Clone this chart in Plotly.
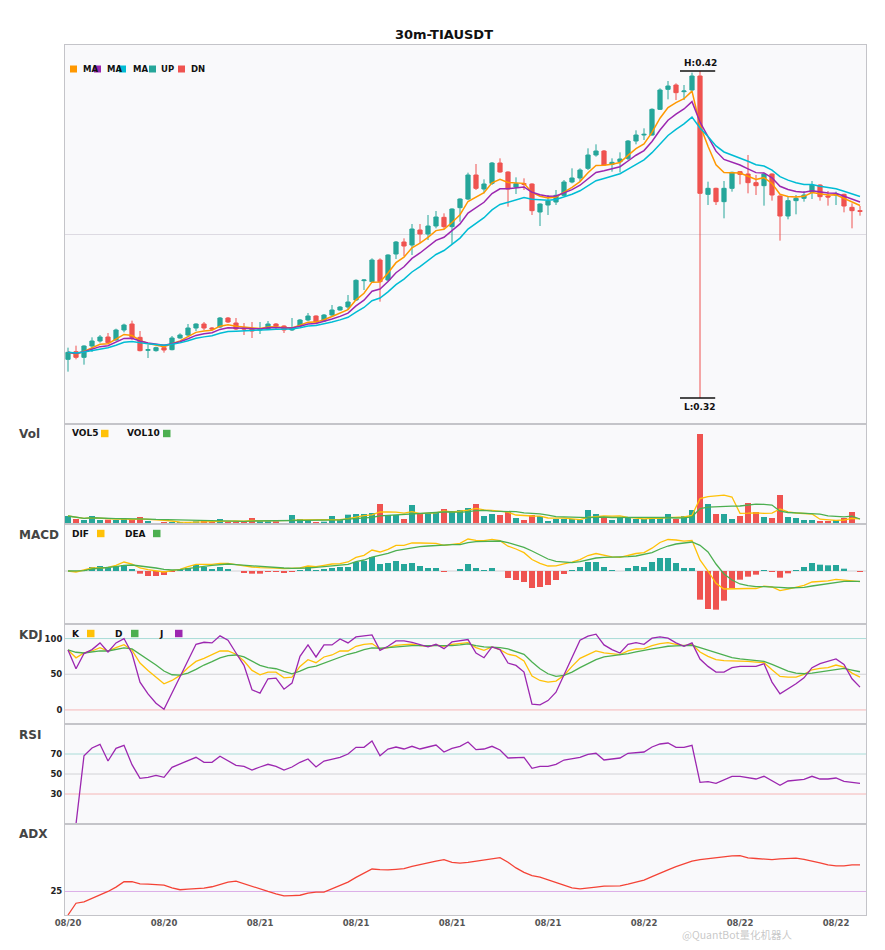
import plotly.graph_objects as go
from plotly.subplots import make_subplots

title_text = "30m-TIAUSDT"
tick_pos = [0, 12, 24, 36, 48, 60, 72, 84, 96]
tick_labels = ["08/20", "08/20", "08/21", "08/21", "08/21", "08/21", "08/22", "08/22", "08/22"]

opens = [0.3335, 0.3358, 0.3341, 0.3375, 0.3390, 0.3402, 0.3393, 0.3423, 0.3441, 0.3401,
         0.3362, 0.3361, 0.3370, 0.3364, 0.3399, 0.3408, 0.3429, 0.3441, 0.3429, 0.3432,
         0.3459, 0.3444, 0.3429, 0.3426, 0.3423, 0.3426, 0.3441, 0.3435, 0.3423, 0.3435,
         0.3453, 0.3465, 0.3450, 0.3468, 0.3483, 0.3492, 0.3513, 0.3571, 0.3568, 0.3633,
         0.3573, 0.3651, 0.3687, 0.3678, 0.3723, 0.3711, 0.3735, 0.3761, 0.3733, 0.3790,
         0.3816, 0.3888, 0.3846, 0.3863, 0.3924, 0.3897, 0.3852, 0.3862, 0.3861, 0.3777,
         0.3798, 0.3807, 0.3827, 0.3867, 0.3879, 0.3908, 0.3948, 0.3960, 0.3920, 0.3928,
         0.3938, 0.3990, 0.4008, 0.4008, 0.4085, 0.4145, 0.4158, 0.4138, 0.4143, 0.4185,
         0.3830, 0.3848, 0.3808, 0.3848, 0.3898, 0.3891, 0.3865, 0.3856, 0.3891, 0.3825,
         0.3765, 0.3811, 0.3818, 0.3836, 0.3858, 0.3825, 0.3828, 0.3830, 0.3791, 0.3781]
highs = [0.3370, 0.3376, 0.3377, 0.3401, 0.3408, 0.3414, 0.3427, 0.3442, 0.3451, 0.3420,
         0.3379, 0.3373, 0.3379, 0.3405, 0.3413, 0.3441, 0.3443, 0.3447, 0.3432, 0.3462,
         0.3462, 0.3459, 0.3444, 0.3447, 0.3447, 0.3450, 0.3444, 0.3437, 0.3459, 0.3456,
         0.3474, 0.3467, 0.3471, 0.3498, 0.3495, 0.3528, 0.3575, 0.3575, 0.3638, 0.3638,
         0.3650, 0.3690, 0.3698, 0.3741, 0.3741, 0.3768, 0.3780, 0.3773, 0.3788, 0.3818,
         0.3895, 0.3921, 0.3875, 0.3927, 0.3938, 0.3899, 0.3881, 0.3878, 0.3863, 0.3803,
         0.3828, 0.3843, 0.3873, 0.3908, 0.3908, 0.3968, 0.3980, 0.3963, 0.3938, 0.3956,
         0.3993, 0.4022, 0.4028, 0.4088, 0.4148, 0.4170, 0.4163, 0.4158, 0.4195, 0.4200,
         0.3868, 0.3850, 0.3870, 0.3898, 0.3900, 0.3948, 0.3888, 0.3893, 0.3893, 0.3827,
         0.3825, 0.3828, 0.3840, 0.3870, 0.3860, 0.3840, 0.3838, 0.3832, 0.3803, 0.3795]
lows = [0.3298, 0.3335, 0.3319, 0.3357, 0.3385, 0.3383, 0.3391, 0.3416, 0.3393, 0.3359,
        0.3339, 0.3358, 0.3355, 0.3362, 0.3397, 0.3405, 0.3420, 0.3423, 0.3423, 0.3429,
        0.3444, 0.3423, 0.3408, 0.3399, 0.3411, 0.3423, 0.3423, 0.3414, 0.3420, 0.3432,
        0.3450, 0.3444, 0.3447, 0.3465, 0.3481, 0.3483, 0.3510, 0.3543, 0.3565, 0.3508,
        0.3568, 0.3636, 0.3645, 0.3648, 0.3684, 0.3693, 0.3728, 0.3725, 0.3681, 0.3748,
        0.3813, 0.3843, 0.3833, 0.3858, 0.3895, 0.3793, 0.3831, 0.3843, 0.3768, 0.3735,
        0.3768, 0.3798, 0.3825, 0.3863, 0.3868, 0.3903, 0.3943, 0.3916, 0.3898, 0.3896,
        0.3933, 0.3980, 0.3993, 0.4006, 0.4083, 0.4115, 0.4113, 0.4113, 0.4138, 0.3219,
        0.3798, 0.3798, 0.3758, 0.3838, 0.3860, 0.3833, 0.3828, 0.3796, 0.3811, 0.3691,
        0.3755, 0.3770, 0.3808, 0.3816, 0.3811, 0.3796, 0.3798, 0.3776, 0.3728, 0.3766]
closes = [0.3356, 0.3341, 0.3375, 0.3390, 0.3402, 0.3385, 0.3423, 0.3438, 0.3401, 0.3361,
          0.3364, 0.3370, 0.3363, 0.3399, 0.3408, 0.3429, 0.3441, 0.3429, 0.3426, 0.3459,
          0.3447, 0.3426, 0.3426, 0.3420, 0.3426, 0.3441, 0.3435, 0.3423, 0.3429, 0.3453,
          0.3465, 0.3447, 0.3468, 0.3483, 0.3492, 0.3507, 0.3572, 0.3573, 0.3633, 0.3568,
          0.3648, 0.3687, 0.3675, 0.3726, 0.3711, 0.3735, 0.3762, 0.3733, 0.3786, 0.3816,
          0.3888, 0.3848, 0.3861, 0.3924, 0.3897, 0.3846, 0.3862, 0.3860, 0.3781, 0.3801,
          0.3810, 0.3827, 0.3867, 0.3879, 0.3903, 0.3948, 0.3960, 0.3918, 0.3926, 0.3936,
          0.3990, 0.4008, 0.4010, 0.4085, 0.4143, 0.4155, 0.4135, 0.4140, 0.4185, 0.3833,
          0.3848, 0.3808, 0.3848, 0.3896, 0.3890, 0.3865, 0.3856, 0.3891, 0.3828, 0.3765,
          0.3811, 0.3818, 0.3828, 0.3858, 0.3823, 0.3822, 0.3830, 0.3795, 0.3781, 0.3779]

ma_fast = [0.3356, 0.3351, 0.3359, 0.33693, 0.33802, 0.33818, 0.33955, 0.34097, 0.34068, 0.33915,
           0.33823, 0.33782, 0.33731, 0.33817, 0.33905, 0.34033, 0.34159, 0.34203, 0.34222, 0.34345,
           0.34387, 0.34345, 0.34317, 0.34278, 0.34272, 0.34318, 0.34329, 0.34296, 0.34294, 0.34373,
           0.34465, 0.34467, 0.34538, 0.34635, 0.3473, 0.34843, 0.35135, 0.35333, 0.35665, 0.3567,
           0.3594, 0.3625, 0.36417, 0.36698, 0.36835, 0.37007, 0.37211, 0.37251, 0.37454, 0.37689,
           0.38086, 0.38217, 0.38348, 0.38645, 0.38753, 0.38655, 0.38643, 0.38629, 0.38356, 0.38241,
           0.38194, 0.38219, 0.38369, 0.38509, 0.38683, 0.38949, 0.39166, 0.39171, 0.39201, 0.39254,
           0.39469, 0.39673, 0.39815, 0.4016, 0.40583, 0.40905, 0.41053, 0.41169, 0.41396, 0.40374,
           0.39743, 0.39189, 0.38953, 0.38955, 0.38937, 0.38841, 0.38747, 0.38801, 0.38627, 0.38301,
           0.38237, 0.38218, 0.38239, 0.38353, 0.38312, 0.38281, 0.38287, 0.38175, 0.38053, 0.37965]
ma_mid = [0.3356, 0.33527, 0.33576, 0.33648, 0.33731, 0.33757, 0.33862, 0.33977, 0.33984, 0.33901,
          0.33843, 0.33811, 0.33771, 0.3382, 0.33878, 0.33969, 0.34067, 0.34117, 0.34149, 0.34247,
          0.34297, 0.34289, 0.34283, 0.34265, 0.34264, 0.34296, 0.34308, 0.34291, 0.34291, 0.34344,
          0.34412, 0.34425, 0.34482, 0.34559, 0.34639, 0.34735, 0.34954, 0.35126, 0.35394, 0.35458,
          0.35685, 0.35948, 0.36126, 0.36378, 0.36541, 0.36721, 0.36921, 0.37012, 0.372, 0.37413,
          0.37739, 0.37904, 0.38061, 0.38323, 0.38467, 0.38465, 0.38499, 0.38521, 0.38363, 0.38285,
          0.38244, 0.3825, 0.38343, 0.38442, 0.38573, 0.38775, 0.38958, 0.39007, 0.39063, 0.39129,
          0.393, 0.39473, 0.39612, 0.39887, 0.4023, 0.40523, 0.40707, 0.40861, 0.41081, 0.4047,
          0.40028, 0.39595, 0.39347, 0.39261, 0.39181, 0.39063, 0.38951, 0.38942, 0.38795, 0.38541,
          0.38445, 0.38386, 0.38362, 0.3841, 0.3837, 0.38337, 0.38329, 0.38245, 0.38148, 0.38068]
ma_slow = [0.3356, 0.33539, 0.33569, 0.33616, 0.33674, 0.33699, 0.33775, 0.33861, 0.33882, 0.33843,
           0.33814, 0.33798, 0.33774, 0.33805, 0.33844, 0.33908, 0.3398, 0.34024, 0.34058, 0.34134,
           0.34182, 0.34193, 0.34203, 0.34203, 0.34211, 0.34239, 0.34255, 0.34251, 0.34257, 0.34296,
           0.34347, 0.34365, 0.3441, 0.3447, 0.34534, 0.34611, 0.34769, 0.34906, 0.35109, 0.35191,
           0.35375, 0.35589, 0.35755, 0.3597, 0.36133, 0.36307, 0.36495, 0.36614, 0.36792, 0.36987,
           0.37257, 0.37432, 0.376, 0.37834, 0.37996, 0.38062, 0.38142, 0.38207, 0.3815, 0.3813,
           0.38126, 0.38147, 0.38222, 0.38303, 0.38407, 0.3856, 0.38709, 0.38776, 0.38845, 0.38919,
           0.39059, 0.39205, 0.39333, 0.3955, 0.39819, 0.40066, 0.40249, 0.40413, 0.40618, 0.40291,
           0.40032, 0.39753, 0.39571, 0.39484, 0.39401, 0.39294, 0.39189, 0.39149, 0.39025, 0.38829,
           0.38726, 0.38648, 0.38595, 0.38593, 0.38541, 0.38495, 0.38467, 0.38393, 0.3831, 0.38236]

volume = [24, 15, 12, 24, 12, 13, 12, 15, 15, 21,
          9, 3, 6, 6, 4, 6, 8, 12, 6, 15,
          7, 7, 6, 18, 8, 8, 8, 3, 27, 15,
          12, 6, 7, 24, 15, 28, 30, 30, 33, 60,
          27, 27, 15, 57, 30, 33, 33, 45, 39, 42,
          48, 60, 24, 30, 27, 36, 18, 12, 27, 24,
          9, 15, 15, 15, 12, 42, 30, 21, 12, 18,
          18, 15, 15, 18, 18, 30, 15, 24, 42, 270,
          60, 30, 30, 15, 24, 63, 36, 21, 18, 87,
          21, 18, 12, 12, 9, 9, 12, 18, 36, 3]
vol5 = [24, 19.5, 17, 18.75, 17.4, 15.2, 14.6, 15.2, 13.4, 15.2,
        14.4, 12.6, 10.8, 9.0, 5.6, 5.0, 6.0, 7.2, 7.2, 9.4,
        9.6, 9.4, 8.2, 10.6, 9.2, 9.4, 9.6, 9.0, 10.8, 12.2,
        13.0, 12.6, 13.4, 12.8, 12.8, 16.0, 20.8, 25.4, 27.2, 36.2,
        36.0, 35.4, 32.4, 37.2, 31.2, 32.4, 33.6, 39.6, 36.0, 38.4,
        41.4, 46.8, 42.6, 40.8, 37.8, 35.4, 27.0, 24.6, 24.0, 23.4,
        18.0, 17.4, 18.0, 15.6, 13.2, 19.8, 22.8, 24.0, 23.4, 24.6,
        19.8, 16.8, 15.6, 16.8, 16.8, 19.2, 19.2, 21.0, 25.8, 76.2,
        82.2, 85.2, 86.4, 81.0, 31.8, 32.4, 33.6, 31.8, 32.4, 45.0,
        36.6, 33.0, 31.2, 30.0, 14.4, 12.0, 10.8, 12.0, 16.8, 15.6]
vol10 = [24, 19.5, 17, 18.75, 17.4, 16.7, 16.0, 15.9, 15.8, 16.3,
         14.8, 13.6, 13.0, 11.2, 10.4, 9.7, 9.3, 9.0, 8.1, 7.5,
         7.3, 7.7, 7.7, 8.9, 9.3, 9.5, 9.5, 8.6, 10.7, 10.7,
         11.2, 11.1, 11.2, 11.8, 12.5, 14.5, 16.7, 19.4, 20.0, 24.5,
         26.0, 28.1, 28.9, 32.2, 33.7, 34.2, 34.5, 36.0, 36.6, 34.8,
         36.9, 40.2, 41.1, 38.4, 38.1, 38.4, 36.9, 33.6, 32.4, 30.6,
         26.7, 22.2, 21.3, 19.8, 18.3, 18.9, 20.1, 21.0, 19.5, 18.9,
         19.8, 19.8, 19.8, 20.1, 20.7, 19.5, 18.0, 18.3, 21.3, 46.5,
         50.7, 52.2, 53.7, 53.4, 54.0, 57.3, 59.4, 59.1, 56.7, 38.4,
         34.5, 33.3, 31.5, 31.2, 29.7, 24.3, 21.9, 21.6, 23.4, 15.0]

dif = [0, -3, 3, 9, 9, 11, 17, 27, 21, 9,
       4, 0, -3, 1, 5, 13, 20, 20, 20, 23,
       23, 19, 15, 12, 10, 10, 9, 7, 7, 9,
       15, 13, 17, 21, 22, 27, 41, 47, 63, 57,
       65, 77, 77, 84, 84, 84, 83, 77, 79, 83,
       96, 92, 91, 95, 91, 74.5, 66, 55, 34.5, 23,
       15, 15.5, 21.5, 26.5, 34, 46.5, 52.5, 47, 42.5, 41,
       47.5, 52.5, 55, 68.5, 85.5, 94.5, 93, 89.5, 91.5, 33,
       0, -37, -54, -53, -52, -52.5, -52.5, -45.5, -48, -59,
       -54.5, -49.5, -43, -33, -31.5, -29.5, -25, -27.5, -31, -32]
dea = [0, 0, 1, 6, 8, 9, 13, 17, 18, 15,
       13, 9, 5, 3, 4, 8, 11, 14, 17, 19,
       21, 19, 17, 15, 14, 13, 11, 9, 8, 8,
       9, 11, 13, 15, 17, 20, 28, 33, 42, 47,
       53, 61, 65, 70, 73, 75, 77, 77, 79, 79,
       85, 88, 89, 90, 90, 85, 79, 71, 60, 47,
       36, 29, 26, 25, 28, 33, 39, 41, 41, 41,
       43, 45, 49, 55, 66, 75, 81, 85, 87, 77,
       57, 21, -9, -27, -39, -44, -47, -47, -47, -49,
       -51, -51, -49, -45, -41, -38, -34, -31, -31, -31]
macd_hist = [0, -1, 3, 12, 15, 10, 15, 18, 6, -8,
             -15, -15, -12, -3, 3, 9, 18, 12, 6, 12,
             6, 0, -5, -8, -8, -2, -2, -5, -2, 3,
             12, 3, 6, 9, 12, 12, 27, 30, 42, 21,
             24, 30, 21, 24, 15, 9, 9, -2, 0, 6,
             21, 9, 3, 9, 0, -21, -27, -33, -51, -48,
             -42, -27, -9, 3, 12, 27, 27, 12, 3, 0,
             9, 15, 12, 27, 39, 39, 24, 9, 9, -86,
             -114, -116, -89, -51, -26, -17, -11, 3, -2, -20,
             -7, 3, 12, 24, 19, 17, 18, 7, 0, -2]

k_line = [84, 73, 80, 82.6, 87.3, 82.6, 87.3, 91.5, 83.6, 65.7,
          55.4, 46, 36.6, 41.3, 48.4, 59.2, 68, 72.3, 77, 82.6,
          82.6, 78, 68.5, 55.4, 49.3, 53, 53, 45, 46, 61,
          70.4, 66.2, 74.2, 77, 82.6, 82.6, 89.2, 92, 93, 85.4,
          87.3, 90.6, 91.5, 92, 90.1, 89.2, 91, 89.2, 92, 93,
          94.4, 87.3, 83.6, 88.3, 84.5, 78, 75.6, 68.5, 47.4, 41.3,
          39, 40.4, 48.4, 61, 72.3, 77.5, 82.6, 79.8, 78.9, 77.5,
          82.6, 85.4, 85.9, 90.1, 93, 94.4, 92, 90.1, 92, 81.2,
          75.1, 70.4, 69, 69, 69, 68, 67.1, 66.2, 56.3, 46.9,
          46, 46, 49.8, 56.3, 58.2, 59.2, 62.9, 60.1, 51.6, 46]
d_line = [84, 80.8, 79.8, 81.2, 82.6, 82.6, 84.5, 86.9, 85.4, 78,
          70.4, 62.9, 54.5, 49.3, 48.8, 51.6, 56.8, 62.9, 67.6, 72.8,
          76, 77, 74.2, 68.5, 62.4, 59.2, 57.7, 54, 50.7, 54.5,
          59.2, 61.5, 65.7, 69.5, 74.2, 78, 80.8, 84.5, 86.9, 86.4,
          87.3, 88.3, 89.2, 90.1, 90.1, 90.1, 90.1, 89.7, 90.1, 91.1,
          92.5, 90.1, 88.3, 87.8, 87.3, 85.4, 82.2, 78, 67.1, 57.7,
          50.7, 46.9, 48.4, 53, 59.2, 64.8, 70.4, 74.2, 75.6, 76.5,
          78.9, 81.2, 83.6, 85.4, 87.3, 89.2, 89.7, 89.7, 90.6, 87.3,
          83.6, 79.8, 76, 73.2, 71.4, 70.4, 69, 68, 63.8, 58.7,
          54.5, 51.6, 50.7, 51.6, 53.5, 55.4, 57.3, 58.2, 55.9, 53.5]
j_line = [84, 57.7, 79, 84.5, 93.9, 81.2, 93.9, 100, 79, 39,
          22.5, 9.4, 0.9, 24, 46, 70.4, 92, 94.8, 93.9, 103.8,
          97.7, 79.8, 62.4, 28.2, 23.5, 43.7, 44.6, 29.1, 37.6, 75.1,
          91.1, 74.2, 91.1, 91.1, 99.5, 93.9, 102.3, 103.8, 105.2, 83.6,
          89.2, 96.7, 96.7, 94.8, 91.1, 88.3, 92, 85.9, 95.3, 96.7,
          98.6, 79.8, 73.2, 88.3, 84.5, 65.7, 62.4, 53, 8, 7,
          13.1, 24.9, 48.4, 74.2, 97.7, 103.3, 106.1, 91.1, 84.5, 79.8,
          92, 94.4, 92, 100.5, 102.3, 100.5, 93.9, 89.2, 93.9, 71.4,
          61, 53, 53, 59.2, 61, 61, 61, 64.8, 39, 22.5,
          29.6, 36.6, 45, 59.2, 64.8, 67.6, 71.4, 63.8, 43.7, 31.9]

rsi = [None, 0, 68.3, 76, 79.7, 63, 75.7, 78.7, 59.3, 45.7,
       46.7, 48.7, 46.7, 56.7, 60, 64, 66.7, 61.7, 61.7, 67.7,
       63.3, 58.7, 57.7, 54, 57, 59.7, 57.7, 54, 57, 61.7,
       65, 57, 63, 65, 66.7, 70, 76.7, 76.7, 83, 68.3,
       75, 77, 75, 77.7, 75, 77, 79, 72, 75.7, 77.7,
       82, 74.3, 75, 77.7, 74, 66, 66.7, 66.7, 55.7, 57.7,
       57.7, 59.7, 64, 65, 66.7, 69.7, 70.7, 64, 65, 66,
       70.7, 71.7, 72, 77, 80, 81, 76.7, 76.7, 78.7, 41.7,
       42.3, 40.7, 44, 47.7, 47.7, 46, 45, 47.7, 43, 38.7,
       43, 43.7, 44.7, 47.7, 45, 45, 46, 42.7, 41.7, 40.7]

adx = [10, 17.5, 18.4, 20.5, 22.4, 25, 27.8, 31.2, 31.2, 29.9,
       29.7, 29.3, 29.1, 27.3, 26.1, 26.5, 26.7, 27.1, 28, 29.7,
       31, 31.6, 29.9, 28.2, 26.3, 25, 23.5, 22.2, 22.4, 22.6,
       23.9, 24.6, 24.6, 26.7, 28.6, 31, 34, 36.8, 39.3, 38.9,
       38.7, 39.1, 39.6, 41, 42.3, 43.2, 44.3, 45.3, 43.6, 43,
       43.6, 44.3, 44.9, 45.5, 46.6, 43.6, 40, 37.2, 35.1, 34.2,
       32.5, 30.6, 28.8, 27.3, 26.7, 27.1, 27.8, 28.4, 28.6, 28.6,
       29.7, 31.2, 32.3, 34.4, 36.8, 38.7, 40.8, 42.8, 44.3, 45.3,
       46, 46.4, 47, 47.7, 47.9, 46.4, 46, 45.8, 45.3, 45.8,
       45.8, 46.2, 45.5, 44.5, 43.2, 41.9, 41.3, 41.3, 41.9, 41.9]

for name, arr in [("opens", opens), ("highs", highs), ("lows", lows), ("closes", closes),
                  ("ma_fast", ma_fast), ("ma_mid", ma_mid), ("ma_slow", ma_slow),
                  ("volume", volume), ("vol5", vol5), ("vol10", vol10), ("dif", dif),
                  ("dea", dea), ("macd_hist", macd_hist), ("k", k_line), ("d", d_line),
                  ("j", j_line), ("rsi", rsi), ("adx", adx)]:
    assert len(arr) == 100, (name, len(arr))

# ---------------- styling ----------------
UP = "#26a69a"
DN = "#ef5350"
C_ORANGE = "#ff9800"
C_PURPLE = "#9c27b0"
C_CYAN = "#00bcd4"
C_YELLOW = "#ffc107"
C_GREEN = "#4caf50"
FONT = "DejaVu Sans"
BORDER = "#c4c4c9"

# the page body adds an 8 px offset; plot area must sit at page x 65..866, y 45..915
OFF = 8
W, H = 885 - 2 * OFF, 950 - 2 * OFF
PL, PR, PT, PB = 65, 866, 45, 915          # plot area in page pixels
ML, MT = PL - OFF, PT - OFF
MR = W - (PR - OFF)
MB = H - (PB - OFF)
PW = PR - PL
PH = PB - PT


def px_x(px):
    return (px - PL) / PW


def px_y(py):
    return (PB - py) / PH


x = list(range(len(closes)))
bar_colors = [UP if c >= o else DN for o, c in zip(opens, closes)]
hist_colors = [UP if v >= 0 else DN for v in macd_hist]

fig = make_subplots(rows=6, cols=1, shared_xaxes=True, vertical_spacing=0,
                    row_heights=[379, 100, 100, 100, 100, 91])

fig.add_trace(go.Candlestick(
    x=x, open=opens, high=highs, low=lows, close=closes,
    increasing=dict(line=dict(color=UP, width=1), fillcolor=UP),
    decreasing=dict(line=dict(color=DN, width=1), fillcolor=DN),
    whiskerwidth=0, showlegend=False, name="TIAUSDT"), row=1, col=1)
for arr, col in [(ma_fast, C_ORANGE), (ma_mid, C_PURPLE), (ma_slow, C_CYAN)]:
    fig.add_trace(go.Scatter(x=x, y=arr, mode="lines", line=dict(color=col, width=1.5),
                             showlegend=False, hoverinfo="skip"), row=1, col=1)

fig.add_trace(go.Bar(x=x, y=volume, marker=dict(color=bar_colors, line=dict(width=0)),
                     showlegend=False), row=2, col=1)
fig.add_trace(go.Scatter(x=x, y=vol5, mode="lines", line=dict(color=C_YELLOW, width=1.3),
                         showlegend=False), row=2, col=1)
fig.add_trace(go.Scatter(x=x, y=vol10, mode="lines", line=dict(color=C_GREEN, width=1.3),
                         showlegend=False), row=2, col=1)

fig.add_trace(go.Bar(x=x, y=macd_hist, marker=dict(color=hist_colors, line=dict(width=0)),
                     showlegend=False), row=3, col=1)
fig.add_trace(go.Scatter(x=x, y=dif, mode="lines", line=dict(color=C_YELLOW, width=1.3),
                         showlegend=False), row=3, col=1)
fig.add_trace(go.Scatter(x=x, y=dea, mode="lines", line=dict(color=C_GREEN, width=1.3),
                         showlegend=False), row=3, col=1)

for arr, col in [(k_line, C_YELLOW), (d_line, C_GREEN), (j_line, C_PURPLE)]:
    fig.add_trace(go.Scatter(x=x, y=arr, mode="lines", line=dict(color=col, width=1.3),
                             showlegend=False), row=4, col=1)

fig.add_trace(go.Scatter(x=x, y=rsi, mode="lines", line=dict(color=C_PURPLE, width=1.3),
                         showlegend=False), row=5, col=1)
fig.add_trace(go.Scatter(x=x, y=adx, mode="lines", line=dict(color="#f44336", width=1.3),
                         showlegend=False), row=6, col=1)

# reference lines
TEAL_L, GRAY_L, PINK_L = "#a9dcd8", "#d2d2d6", "#f6b6b6"
fig.add_hline(y=0, row=3, col=1, line=dict(color=GRAY_L, width=1), layer="below")
for yv, col in [(100, TEAL_L), (50, GRAY_L), (0, PINK_L)]:
    fig.add_hline(y=yv, row=4, col=1, line=dict(color=col, width=1), layer="below")
for yv, col in [(70, TEAL_L), (50, GRAY_L), (30, PINK_L)]:
    fig.add_hline(y=yv, row=5, col=1, line=dict(color=col, width=1), layer="below")
fig.add_hline(y=25, row=6, col=1, line=dict(color="#dcaee8", width=1), layer="below")

# axes
fig.update_xaxes(range=[-0.375, 99.75], showgrid=False, zeroline=False, showline=True,
                 mirror=True, linecolor=BORDER, linewidth=1, ticks="", showticklabels=False)
fig.update_xaxes(row=6, col=1, showticklabels=True, tickmode="array", tickvals=tick_pos,
                 ticktext=tick_labels,
                 tickfont=dict(family=FONT, size=8.5, color="#555555", weight="bold"))
fig.update_yaxes(showgrid=False, zeroline=False, showline=True, mirror=True,
                 linecolor=BORDER, linewidth=1, ticks="",
                 tickfont=dict(family=FONT, size=8.5, color="#222222", weight="bold"))

y_lo, y_hi = 0.3141, 0.4278
fig.update_yaxes(row=1, col=1, range=[y_lo, y_hi], tickmode="array",
                 tickvals=[(y_lo + y_hi) / 2], showticklabels=False, showgrid=True,
                 gridcolor="#dddae2", gridwidth=1)
fig.update_yaxes(row=2, col=1, range=[0, 300], showticklabels=False)
fig.update_yaxes(row=3, col=1, range=[-159, 141], showticklabels=False)
fig.update_yaxes(row=4, col=1, range=[-19.7, 120.4], tickmode="array", tickvals=[0, 50, 100])
fig.update_yaxes(row=5, col=1, range=[0, 100], tickmode="array", tickvals=[30, 50, 70])
fig.update_yaxes(row=6, col=1, range=[10, 68], tickmode="array", tickvals=[25])

# high / low markers
hi = max(highs)
hi_i = highs.index(hi)
lo = min(lows)
lo_i = lows.index(lo)
shapes = [
    dict(type="line", xref="x", yref="y", x0=hi_i - 2.5, x1=hi_i + 1.9, y0=hi, y1=hi,
         line=dict(color="#111111", width=1.5)),
    dict(type="line", xref="x", yref="y", x0=lo_i - 2.5, x1=lo_i + 1.9, y0=lo, y1=lo,
         line=dict(color="#111111", width=1.5)),
]
annotations = [
    dict(x=hi_i, y=hi, xref="x", yref="y", text=f"H:{hi:.2f}", showarrow=False,
         yanchor="bottom", yshift=1, font=dict(family=FONT, size=9, color="#111111", weight="bold")),
    dict(x=lo_i, y=lo, xref="x", yref="y", text=f"L:{lo:.2f}", showarrow=False,
         yanchor="top", yshift=-2, font=dict(family=FONT, size=9, color="#111111", weight="bold")),
]

# panel names
for label, py in [("Vol", 434), ("MACD", 535), ("KDJ", 635), ("RSI", 735), ("ADX", 834)]:
    annotations.append(dict(x=px_x(17), y=px_y(py), xref="paper", yref="paper", text=label,
                            showarrow=False, xanchor="left", yanchor="middle",
                            font=dict(family=FONT, size=12, color="#444444", weight="bold")))

# legend-like keys: (text, text_left_px, square_left_px, square_color, y_px)
legend_items = [
    ("MA", 81, 70, C_ORANGE, 69), ("MA", 105, 94, C_PURPLE, 69), ("MA", 131, 119, C_CYAN, 69),
    ("UP", 159, 149, UP, 69), ("DN", 189, 178, DN, 69),
]
for text, tx, sx, col, py in legend_items:
    annotations.append(dict(x=px_x(tx), y=px_y(py), xref="paper", yref="paper", text=text,
                            showarrow=False, xanchor="left", yanchor="middle",
                            font=dict(family=FONT, size=8.5, color="#111111", weight="bold")))
    shapes.append(dict(type="rect", xref="paper", yref="paper", x0=px_x(sx), x1=px_x(sx + 7),
                       y0=px_y(py + 3.5), y1=px_y(py - 3.5), fillcolor=col, line=dict(width=0),
                       layer="above"))

sub_keys = [
    ("VOL5", 70, 101, C_YELLOW, 433.5), ("VOL10", 125, 163, C_GREEN, 433.5),
    ("DIF", 70, 97, C_YELLOW, 533.5), ("DEA", 123, 153, C_GREEN, 533.5),
    ("K", 70, 87, C_YELLOW, 633.5), ("D", 113, 131, C_GREEN, 633.5), ("J", 157, 175, C_PURPLE, 633.5),
]
for text, tx, sx, col, py in sub_keys:
    annotations.append(dict(x=px_x(tx), y=px_y(py), xref="paper", yref="paper", text=text,
                            showarrow=False, xanchor="left", yanchor="middle",
                            font=dict(family=FONT, size=9, color="#111111", weight="bold")))
    shapes.append(dict(type="rect", xref="paper", yref="paper", x0=px_x(sx), x1=px_x(sx + 7.5),
                       y0=px_y(py + 3.7), y1=px_y(py - 3.7), fillcolor=col, line=dict(width=0),
                       layer="above"))

# watermark seen on the picture (kept just below the date labels, inside the page)
annotations.append(dict(x=px_x(680), y=px_y(934), xref="paper", yref="paper",
                        text="@QuantBot量化机器人", showarrow=False, xanchor="left",
                        yanchor="middle",
                        font=dict(family="Noto Sans CJK SC", size=10.5, color="rgba(175,175,175,0.7)")))

fig.update_layout(
    width=W, height=H,
    margin=dict(l=ML, r=MR, t=MT, b=MB, autoexpand=False),
    paper_bgcolor="white", plot_bgcolor="#f9f9fb",
    font=dict(family=FONT, color="#222222"),
    title=dict(text=title_text, x=(444 - OFF) / W, xref="container", xanchor="center",
               y=1 - (34 - OFF) / H, yref="container", yanchor="middle",
               font=dict(family=FONT, size=13, color="#111111", weight="bold")),
    showlegend=False, bargap=0.25, boxgap=0.25,
    xaxis_rangeslider_visible=False,
    hovermode=False,
)
fig.update_layout(shapes=list(fig.layout.shapes) + shapes, annotations=annotations)

fig.write_html("out.html")
